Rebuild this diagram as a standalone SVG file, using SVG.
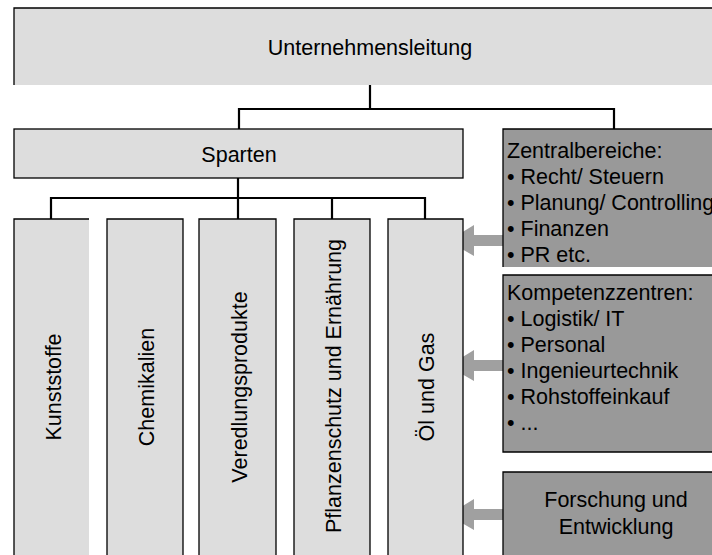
<svg xmlns="http://www.w3.org/2000/svg" width="712" height="555" viewBox="0 0 712 555">
  <style>
    text { font-family: "Liberation Sans", Arial, sans-serif; font-size: 21.5px; fill: #000; }
    .light { fill: #dddddd; }
    .dark { fill: #999999; }
    .edge { fill: none; stroke: #000; stroke-width: 1.3; }
    .conn { fill: none; stroke: #000; stroke-width: 2.2; }
    .arrow { fill: #a0a0a0; }
    .mid { text-anchor: middle; }
  </style>

  <!-- Connectors -->
  <g id="connectors">
    <path class="conn" d="M370,85 V109 M239,109 H614 M239,108 V129 M614,108 V129"/>
    <path class="conn" d="M238,178 V198 M51,198 H425 M51,197 V219 M238,197 V219 M332,197 V219 M425,197 V219"/>
    <polygon class="arrow" points="448,241 474,225 474,235 503,235 503,246 474,246 474,256"/>
    <polygon class="arrow" points="448,366 474,350 474,360 503,360 503,371 474,371 474,381"/>
    <polygon class="arrow" points="448,515 474,499 474,509 503,509 503,520 474,520 474,530"/>
  </g>

  <!-- Top level -->
  <g id="unternehmensleitung">
    <rect class="light" x="14" y="8" width="700" height="77"/>
    <path class="edge" d="M14,85 V8 H714"/>
    <text class="mid" x="370" y="55">Unternehmensleitung</text>
  </g>

  <g id="sparten">
    <rect class="light" x="14" y="129" width="449" height="49"/>
    <rect class="edge" x="14" y="129" width="449" height="49"/>
    <text class="mid" x="239" y="162">Sparten</text>
  </g>

  <!-- Divisions -->
  <g id="kunststoffe">
    <rect class="light" x="14" y="219" width="75" height="340"/>
    <path class="edge" d="M14,560 V219 H89"/>
    <text class="mid" transform="translate(61,387) rotate(-90)">Kunststoffe</text>
  </g>
  <g id="chemikalien">
    <rect class="light" x="107" y="219" width="76" height="340"/>
    <path class="edge" d="M107,560 V219 H183 V560"/>
    <text class="mid" transform="translate(154,387) rotate(-90)">Chemikalien</text>
  </g>
  <g id="veredlungsprodukte">
    <rect class="light" x="199" y="219" width="77" height="340"/>
    <path class="edge" d="M199,560 V219 H276 V560"/>
    <text class="mid" transform="translate(247,387) rotate(-90)">Veredlungsprodukte</text>
  </g>
  <g id="pflanzenschutz">
    <rect class="light" x="294" y="219" width="76" height="340"/>
    <path class="edge" d="M294,560 V219 H370 V560"/>
    <text class="mid" transform="translate(341,386) rotate(-90)">Pflanzenschutz und Ernährung</text>
  </g>
  <g id="oel-und-gas">
    <rect class="light" x="388" y="219" width="75" height="340"/>
    <path class="edge" d="M388,560 V219 H463 V560"/>
    <text class="mid" transform="translate(434,387) rotate(-90)">Öl und Gas</text>
  </g>

  <!-- Central functions -->
  <g id="zentralbereiche">
    <rect class="dark" x="503" y="129" width="220" height="138"/>
    <path class="edge" d="M503,267 V129 H714"/>
    <text x="507" y="158">Zentralbereiche:</text>
    <text x="507" y="184">• Recht/ Steuern</text>
    <text x="507" y="210">• Planung/ Controlling</text>
    <text x="507" y="236">• Finanzen</text>
    <text x="507" y="262">• PR etc.</text>
  </g>

  <g id="kompetenzzentren">
    <rect class="dark" x="503" y="275" width="220" height="177"/>
    <path class="edge" d="M714,452 H503 V275 H714"/>
    <text x="507" y="300">Kompetenzzentren:</text>
    <text x="507" y="326">• Logistik/ IT</text>
    <text x="507" y="352">• Personal</text>
    <text x="507" y="378">• Ingenieurtechnik</text>
    <text x="507" y="404">• Rohstoffeinkauf</text>
    <text x="507" y="430">• ...</text>
  </g>

  <g id="forschung">
    <rect class="dark" x="503" y="472" width="220" height="90"/>
    <path class="edge" d="M503,560 V472 H714"/>
    <text class="mid" x="616" y="507">Forschung und</text>
    <text class="mid" x="616" y="534">Entwicklung</text>
  </g>
</svg>
